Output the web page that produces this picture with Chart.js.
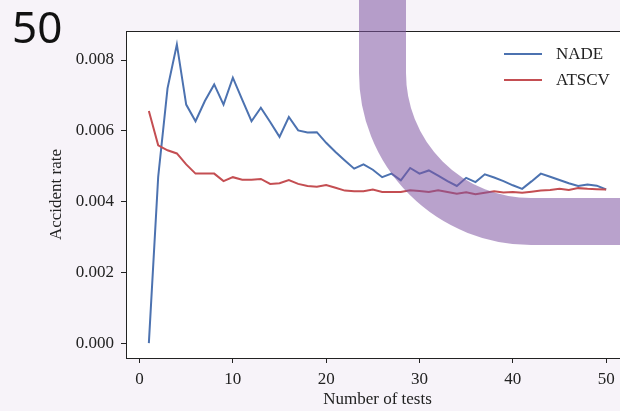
<!DOCTYPE html>
<html>
<head>
<meta charset="utf-8">
<script src="https://cdn.jsdelivr.net/npm/chart.js@4"></script>
<style>
html, body { margin: 0; padding: 0; width: 620px; height: 411px; overflow: hidden; background: #f7f3f9; }
#page { position: relative; width: 620px; height: 411px; overflow: hidden; }
#num { position: absolute; left: 12px; top: 4px; font-family: "Noto Sans"; font-size: 44px; line-height: 44px; color: #111; }
canvas { position: absolute; left: 0; top: 0; }
</style>
</head>
<body>
<div id="page">
  <canvas id="chart" width="640" height="411"></canvas>
  <div id="num">50</div>
</div>
<script>
// data
const tests = [];
for (let i = 1; i <= 50; i++) tests.push(i);

const nade = [
  0.0000, 0.0047, 0.0072, 0.00844, 0.00674, 0.00627, 0.00684, 0.00731, 0.00674, 0.0075,
  0.00688, 0.00627, 0.00665, 0.00625, 0.00583, 0.00639, 0.00601, 0.00595, 0.00596, 0.00566,
  0.0054, 0.00516, 0.00493, 0.00505, 0.0049, 0.00469, 0.00479, 0.0046, 0.00495, 0.00479,
  0.00488, 0.00473, 0.00458, 0.00444, 0.00467, 0.00455, 0.00477, 0.00468, 0.00458, 0.00446,
  0.00436, 0.00457, 0.00479, 0.0047, 0.00461, 0.00452, 0.00444, 0.00448, 0.00445, 0.00434
];

const atscv = [
  0.00656, 0.00559, 0.00545, 0.00536, 0.00505, 0.00479, 0.00479, 0.00479, 0.00458, 0.00469,
  0.00462, 0.00462, 0.00464, 0.0045, 0.00452, 0.00461, 0.0045, 0.00444, 0.00442, 0.00447,
  0.00439, 0.00431, 0.00429, 0.00429, 0.00434, 0.00427, 0.00427, 0.00427, 0.00432, 0.0043,
  0.00427, 0.00432, 0.00427, 0.00422, 0.00426, 0.00421, 0.00425, 0.00429, 0.00426, 0.00427,
  0.00425, 0.00428, 0.00431, 0.00433, 0.00436, 0.00433, 0.00438, 0.00436, 0.00435, 0.00434
];

const xTicks = [0, 10, 20, 30, 40, 50];
const yTicks = [0, 0.002, 0.004, 0.006, 0.008];

Chart.defaults.font.family = '"Liberation Serif", "Times New Roman", serif';
Chart.defaults.font.size = 17;
Chart.defaults.color = '#222';

// white plot area, box, in-axes legend
const frame = {
  id: 'frame',
  beforeDraw(chart) {
    const a = chart.chartArea, ctx = chart.ctx;
    ctx.save();
    ctx.fillStyle = '#ffffff';
    ctx.fillRect(a.left, a.top, a.right - a.left, a.bottom - a.top);
    ctx.restore();
  },
  afterDatasetsDraw(chart) {
    const a = chart.chartArea, ctx = chart.ctx;
    ctx.save();
    ctx.strokeStyle = '#222';
    ctx.lineWidth = 1;
    ctx.beginPath();
    ctx.moveTo(a.left, a.top + 0.5);
    ctx.lineTo(a.right, a.top + 0.5);
    ctx.lineTo(a.right, a.bottom);
    ctx.stroke();

    ctx.font = '17px "Liberation Serif"';
    ctx.textBaseline = 'middle';
    ctx.textAlign = 'left';
    chart.data.datasets.forEach((ds, i) => {
      const y = a.top + 23 + i * 26;
      const x0 = a.right - 125;
      ctx.strokeStyle = ds.borderColor;
      ctx.lineWidth = 2;
      ctx.beginPath();
      ctx.moveTo(x0, y);
      ctx.lineTo(x0 + 38, y);
      ctx.stroke();
      ctx.fillStyle = '#222';
      ctx.fillText(ds.label, x0 + 52, y + 1);
    });
    ctx.restore();
  },
  afterDraw(chart) {
    // purple slide decoration on top
    const ctx = chart.ctx;
    ctx.save();
    ctx.strokeStyle = 'rgba(128, 86, 162, 0.55)';
    ctx.lineWidth = 47;
    ctx.beginPath();
    ctx.moveTo(382.5, -10);
    ctx.lineTo(382.5, 73);
    ctx.arc(531, 73, 148.5, Math.PI, Math.PI / 2, true);
    ctx.lineTo(660, 221.5);
    ctx.stroke();
    ctx.restore();
  }
};

new Chart(
  document.getElementById('chart'),
  {
    type: 'line',
    data: {
      datasets: [
        {
          label: 'NADE',
          borderColor: '#4c72b0',
          borderWidth: 2,
          pointRadius: 0,
          tension: 0,
          order: 1,
          data: tests.map((t, i) => ({ x: t, y: nade[i] }))
        },
        {
          label: 'ATSCV',
          borderColor: '#c44e52',
          borderWidth: 2,
          pointRadius: 0,
          tension: 0,
          order: 0,
          data: tests.map((t, i) => ({ x: t, y: atscv[i] }))
        }
      ]
    },
    options: {
      responsive: false,
      animation: false,
      layout: { padding: { left: 0, top: 31, right: 11, bottom: 0 } },
      plugins: {
        legend: { display: false },
        tooltip: { enabled: false }
      },
      scales: {
        x: {
          type: 'linear',
          min: -1.45,
          max: 52.45,
          afterBuildTicks: s => { s.ticks = xTicks.map(v => ({ value: v })); },
          afterFit: s => { s.height = 53; },
          grid: { drawOnChartArea: false, drawTicks: true, tickLength: 5, tickColor: '#222' },
          border: { color: '#222', width: 1 },
          ticks: { padding: 6, color: '#222', callback: v => String(v) },
          title: { display: true, text: 'Number of tests', color: '#222', padding: { top: 0, bottom: 1 } }
        },
        y: {
          min: -0.00042,
          max: 0.00882,
          afterBuildTicks: s => { s.ticks = yTicks.map(v => ({ value: v })); },
          afterFit: s => { s.width = 126; },
          grid: { drawOnChartArea: false, drawTicks: true, tickLength: 5, tickColor: '#222' },
          border: { color: '#222', width: 1 },
          ticks: { padding: 7, color: '#222', callback: v => v.toFixed(3) },
          title: { display: true, text: 'Accident rate', color: '#222', padding: { top: 46, bottom: 0 } }
        }
      }
    },
    plugins: [frame]
  }
);
</script>
</body>
</html>
